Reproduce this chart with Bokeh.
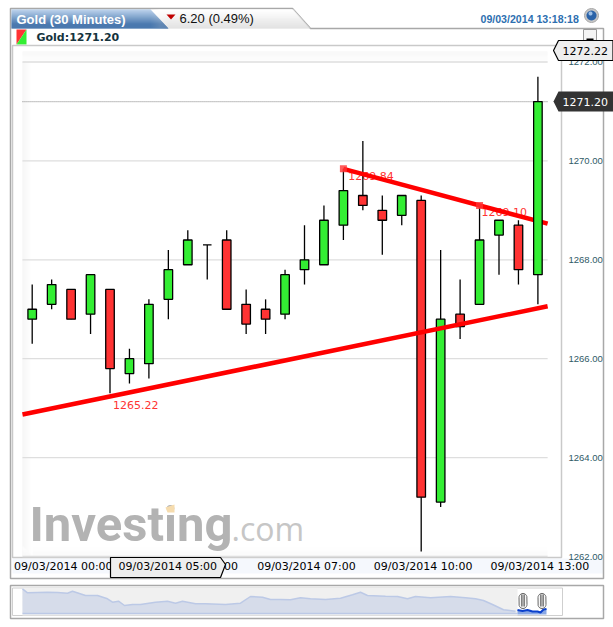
import math
from bokeh.core.properties import value
from bokeh.embed import file_html
from bokeh.layouts import column
from bokeh.models import FixedTicker, Label, LinearAxis, PolyAnnotation, Range1d
from bokeh.plotting import figure
from bokeh.resources import INLINE

# ---------- data ----------
opens  = [1266.8,1267.1,1267.4,1266.9,1267.4,1265.7,1265.9,1267.2,1267.9,1268.3,1268.4,1267.1,1267.0,1266.9,
          1267.8,1267.9,1268.7,1269.3,1269.0,1268.9,1269.2,1263.1,1266.9,1267.1,1268.5,1268.7,1267.7]
closes = [1267.0,1267.5,1266.8,1267.7,1265.8,1266.0,1267.1,1267.8,1268.4,1268.3,1267.0,1266.7,1266.8,1267.7,
          1268.0,1268.8,1269.4,1269.1,1268.8,1269.3,1263.2,1266.8,1266.65,1268.4,1268.8,1267.8,1271.2]
highs  = [1267.5,1267.6,1267.4,1267.7,1267.4,1266.2,1267.2,1268.2,1268.6,1268.3,1268.6,1267.4,1267.2,1267.8,
          1268.7,1269.1,1269.84,1270.4,1269.3,1269.3,1269.3,1268.2,1267.6,1269.1,1268.8,1268.8,1271.7]
lows   = [1266.3,1267.0,1266.8,1266.5,1265.3,1265.5,1265.6,1266.8,1267.9,1267.6,1267.0,1266.5,1266.5,1266.8,
          1267.5,1267.9,1268.4,1269.0,1268.1,1268.7,1262.1,1263.0,1266.4,1267.1,1267.7,1267.5,1267.1]
y_ticks = [1262, 1264, 1266, 1268, 1270, 1272]
x_tick_pos = [1.6, 8.05, 14.1, 20.1, 26.1]
x_tick_labels = ["09/03/2014 00:00", "09/03/2014 04:00", "09/03/2014 07:00", "09/03/2014 10:00", "09/03/2014 13:00"]
support_x, support_y = [-0.5, 26.5], [1264.87, 1267.06]
resist_x, resist_y = [16, 26.5], [1269.84, 1268.73]
anchor_x, anchor_y = [16, 23], [1269.84, 1269.10]
note_x, note_y, note_t = [16.25, 23.1, 4.15], [1269.84, 1269.10, 1265.22], ["1269.84", "1269.10", "1265.22"]
last_price, high_price = 1271.20, 1272.22
nav_x = [22,27,37,47,57,67,72,85,97,107,112,118,124,132,140,155,167,175,182,195,205,225,240,250,262,270,280,290,300,
         310,325,340,352,360,367,385,397,407,415,430,450,465,475,483,492,503,515]
nav_h = [26.7,22.7,23,23.3,23,22.3,24.3,20,20,16.7,13.3,14.3,10,11,11,13.3,14.3,12.3,14.3,11.7,11.7,11,12.3,19,18.3,
         16,16,15.7,17.7,16.7,16,17.3,20.7,23.3,20,19.3,19,16.7,19,17.7,19,17.7,16.7,15,11,5.7,4.3]
sel_x = [517,522,527,532,537,540,543,546]
sel_h = [5.5,4.5,5.5,4,4,3,6,6.5]

RED, GREEN = "#ff3333", "#33ee33"
MAIN_H = 580


def ring(cx, cy, r, n=24):
    return ([cx + r * math.cos(2 * math.pi * i / n) for i in range(n)],
            [cy + r * math.sin(2 * math.pi * i / n) for i in range(n)])


def poly(fig, xs, ys, fill=None, line=None, lw=1, level="underlay", origin=0, alpha=1.0):
    fig.add_layout(PolyAnnotation(
        xs=list(xs), ys=[y - origin for y in ys],
        xs_units="canvas", ys_units="canvas", fill_color=fill, fill_alpha=alpha if fill else 0,
        line_color=line, line_width=lw, line_alpha=1 if line else 0, level=level))


def box(fig, x0, y0, x1, y1, **kw):
    poly(fig, [x0, x1, x1, x0], [y0, y0, y1, y1], **kw)


def label(fig, x, y, text, font="DejaVu Sans", size=11, color="black", style="normal",
          align="left", base="middle", level="overlay", origin=0):
    fig.add_layout(Label(x=x, y=y - origin, x_units="canvas", y_units="canvas", text=text,
                         text_font=font, text_font_size=f"{size}px", text_color=color, text_font_style=style,
                         text_align=align, text_baseline=base, level=level))


def mix(a, b, t):
    ca = [int(a[i:i + 2], 16) for i in (1, 3, 5)]
    cb = [int(b[i:i + 2], 16) for i in (1, 3, 5)]
    return "#%02x%02x%02x" % tuple(round(p + (q - p) * t) for p, q in zip(ca, cb))


# ---------- main chart: the frame fills the canvas, the axes sit at fixed data locations ----------
PX_X = lambda px: (px - 31.7) / 19.45
PX_Y = lambda py: 1268 + (259.3 - py) / 49.45
p = figure(frame_width=613, frame_height=MAIN_H, width=613, height=MAIN_H, output_backend="svg", toolbar_location=None,
           x_range=Range1d(PX_X(0), PX_X(613)), y_range=Range1d(PX_Y(MAIN_H), PX_Y(0)),
           x_axis_location=None, y_axis_location=None,
           min_border=0, background_fill_color="white", border_fill_color="white")
p.grid.visible = False
p.outline_line_color = None

xax = LinearAxis(ticker=FixedTicker(ticks=x_tick_pos), fixed_location=PX_Y(551))
xax.major_label_overrides = dict(zip(x_tick_pos, x_tick_labels))
xax.major_label_text_font = "DejaVu Sans"
xax.major_label_text_font_size = "11px"
xax.major_label_text_color = "black"
xax.major_label_standoff = 2
yax = LinearAxis(ticker=FixedTicker(ticks=y_ticks), fixed_location=PX_X(561))
yax.major_label_overrides = {t: f"{t:.2f}" for t in y_ticks}
yax.major_label_text_font = "Liberation Sans"
yax.major_label_text_font_size = "9.5px"
yax.major_label_text_color = "#2f5a66"
yax.major_label_standoff = 1
for ax in (xax, yax):
    ax.axis_line_color = None
    ax.major_tick_line_color = None
    ax.minor_tick_line_color = None
p.add_layout(xax, "below")
p.add_layout(yax, "right")

# card and tabs
box(p, 12, 558, 603, 573, fill="#f5f8fd")
poly(p, [10, 10, 292, 310, 603, 603, 10], [578, 8, 8, 28, 28, 578, 578], line="#a8a8a8", lw=1.5)
for i in range(19):
    t = i / 18
    y0, y1 = 9 + i, 10 + i
    poly(p, [150, 292 + (y0 - 8) * .9, 292 + (y1 - 8) * .9, 168], [y0, y0, y1, y1],
         fill=mix("#ffffff", "#dadada", t))
    poly(p, [11, 150 + i * 18 / 19, 150 + (i + 1) * 18 / 19, 11], [y0, y0, y1, y1],
         fill=mix("#a5c3e6", "#0e4c93", min(1, t * 1.25)))
label(p, 16, 18.5, "Gold (30 Minutes)", font="Liberation Sans", size=13, color="white", style="bold")
poly(p, [166, 175, 170.5], [14, 14, 19], fill="#c00000", level="overlay")
label(p, 179, 18, "6.20 (0.49%)", font="Liberation Sans", size=13, color="#111111")
label(p, 480, 18, "09/03/2014 13:18:18", font="Liberation Sans", size=10.6, color="#2d6fb0", style="bold")
xs, ys = ring(591, 15, 7)
poly(p, xs, ys, fill="#c6c6c6", line="#aaaaaa")
xs, ys = ring(591, 15, 5)
poly(p, xs, ys, fill="#2b63a8")
xs, ys = ring(590, 13, 2)
poly(p, xs, ys, fill="#9dbfe6")
poly(p, [16, 26, 16], [29, 29, 44], fill=RED)
poly(p, [26, 26, 16], [29, 44, 44], fill=GREEN)
label(p, 36, 36.5, "Gold:1271.20", size=11, color="#15333d", style="bold")
box(p, 583, 29, 596, 46, fill="#f4f4f4", line="#999999")
box(p, 586, 38, 593, 41, fill="black")

# plot frame and shading
box(p, 12, 45, 561, 557, line="#c9c9c9", lw=1.5)
for i in range(10):
    box(p, 22, 51 + i, 547, 52 + i, fill=mix("#f6f6f6", "#fdfdfd", i / 9))
    box(p, 22 + i, 61, 23 + i, 556, fill=mix("#f4f4f4", "#ffffff", i / 9))
    box(p, 22, 546 + i, 547, 547 + i, fill=mix("#ffffff", "#f8f8f8", i / 9))

# watermark
label(p, 29, 524, "Investing", font="Roboto", size=49, color="#b3b3b3", style="bold", level="underlay")
label(p, 231, 528, ".com", font="Open Sans", size=32, color="#c6c6c6", level="underlay")
poly(p, [165, 174, 174, 167], [507, 504, 512, 512], fill="#f6dcae")

# grid
p.segment(x0=[-0.5] * len(y_ticks), x1=[26.5] * len(y_ticks), y0=y_ticks, y1=y_ticks, line_color="#dedede", line_width=1.3)
p.segment(x0=[-0.5], x1=[26.5], y0=[last_price], y1=[last_price], line_color="#999999", line_width=1.2, line_dash="1 1")

# notes lie under everything else
p.text(x=note_x, y=note_y, text=note_t, text_color="#ff3333", text_font=value("DejaVu Sans"), text_font_size="11px",
       text_baseline="top", y_offset=[3, 3, 4])


def candles(idx):
    hi = [highs[i] for i in idx]
    lo = [lows[i] for i in idx]
    op = [opens[i] for i in idx]
    cl = [closes[i] for i in idx]
    col = [GREEN if closes[i] >= opens[i] else RED for i in idx]
    p.segment(x0=idx, x1=idx, y0=lo, y1=hi, line_color="black", line_width=1.3)
    p.vbar(x=idx, width=0.44, bottom=[min(a, b) for a, b in zip(op, cl)], top=[max(a, b) for a, b in zip(op, cl)],
           fill_color=col, line_color="black", line_width=1.3)


candles(list(range(26)))
p.line(support_x, support_y, line_color="#ff0000", line_width=4.5)
p.line(resist_x, resist_y, line_color="#ff0000", line_width=4.5)
p.scatter(anchor_x, anchor_y, marker="square", size=7, fill_color="#ff3333", fill_alpha=.8, line_color=None)
candles([26])

# price tags and crosshair tag
poly(p, [553, 558, 612.5, 612.5, 558], [50, 40, 40, 60, 60], fill="#eeeeee", line="black", lw=1.2, level="overlay")
label(p, 562, 50.5, f"{high_price:.2f}")
poly(p, [553, 558, 613, 613, 558], [101, 91, 91, 111, 111], fill="#333333", level="overlay")
label(p, 562, 101, f"{last_price:.2f}", color="white")
poly(p, [110, 220, 225, 220, 110], [557, 557, 564, 577, 577], fill="#eeeeee", line="black", lw=1.2, level="overlay")
label(p, 118, 566, "09/03/2014 05:00")

# ---------- navigator ----------
NAV = MAIN_H
n = figure(frame_width=613, frame_height=47, width=613, height=47, output_backend="svg", toolbar_location=None,
           x_range=Range1d(0, 613), y_range=Range1d(-12, 35), x_axis_location=None, y_axis_location=None,
           min_border=0, background_fill_color="white", border_fill_color="white")
n.grid.visible = False
n.outline_line_color = None
poly(n, [10, 603, 603, 10], [585, 585, 618, 618], line="#a8a8a8", lw=1.5, origin=NAV)
box(n, 12, 587.5, 562, 615, line="#cfcfcf", origin=NAV)
box(n, 22, 587.5, 517, 615, fill="#f0f0f0", origin=NAV)
n.varea(x=nav_x, y1=[2] * len(nav_x), y2=nav_h, fill_color="#d6dcea")
n.line(x=nav_x, y=nav_h, line_color="#bcc9e6", line_width=1.5)
n.line(x=[22, 517], y=[2, 2], line_color="#bcc9e6", line_width=1.5)
n.varea(x=sel_x, y1=[1] * len(sel_x), y2=sel_h, fill_color="#8aa8e4")
n.line(x=sel_x, y=sel_h, line_color="#0b40cc", line_width=2)
for cx in (522.5, 541.5):
    r = 4
    arc_t = [ring(cx, 597, r)[0][i] for i in range(12, 24)] + [ring(cx, 604, r)[0][i] for i in range(0, 12)]
    arc_y = [ring(cx, 597, r)[1][i] for i in range(12, 24)] + [ring(cx, 604, r)[1][i] for i in range(0, 12)]
    poly(n, arc_t, arc_y, fill="#f6f6f6", line="#666666", level="overlay", origin=NAV)
    box(n, cx - 1.6, 594, cx - .6, 606, fill="#333333", level="overlay", origin=NAV)
    box(n, cx + .6, 594, cx + 1.6, 606, fill="#333333", level="overlay", origin=NAV)

page = column(p, n, spacing=0)
open("out.html", "w").write(file_html(page, INLINE))
